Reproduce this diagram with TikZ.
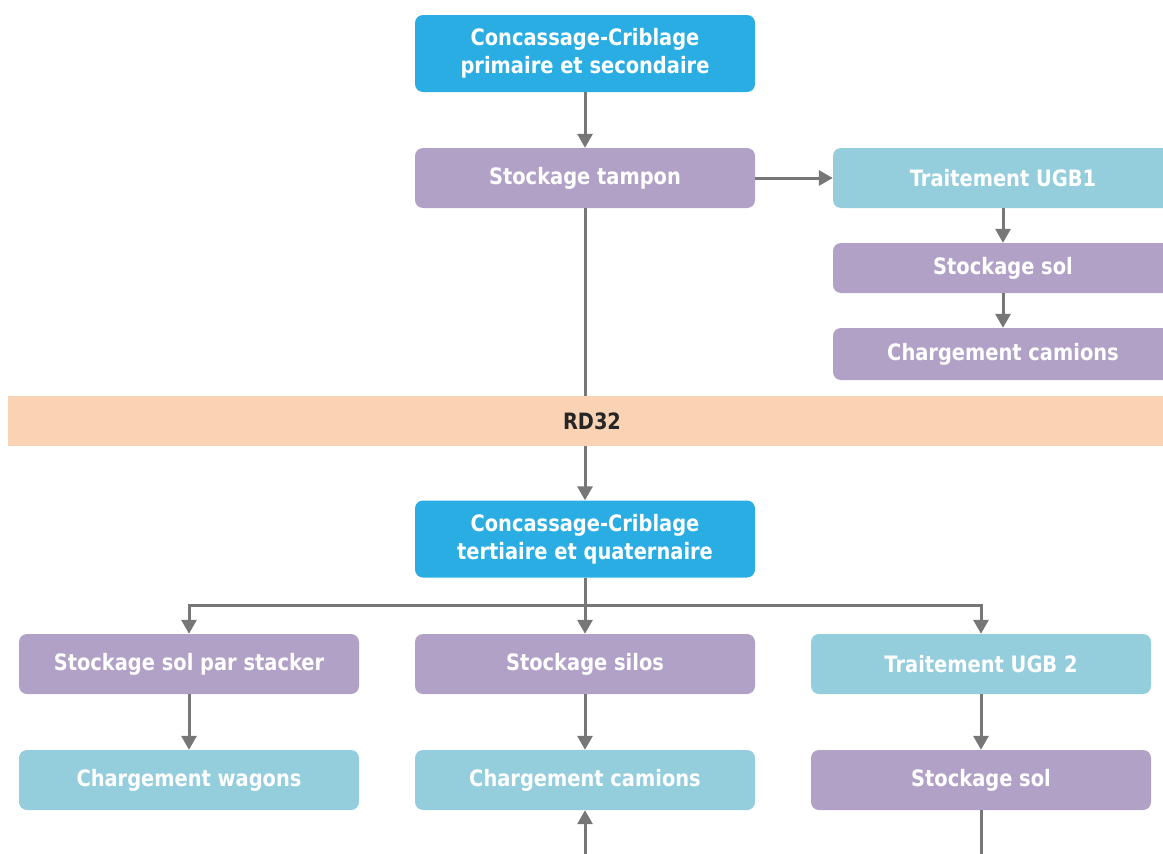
\documentclass[tikz,border=0pt]{standalone}
\usepackage{fontspec}
\setmainfont[FakeStretch=0.86]{DejaVu Sans}
\usepackage{tikz}
\usetikzlibrary{arrows.meta,positioning,calc}
\definecolor{ccblue}{HTML}{2AADE3}
\definecolor{stockviolet}{HTML}{B1A1C7}
\definecolor{loadcyan}{HTML}{94CDDC}
\definecolor{roadpeach}{HTML}{F9D3B4}
\definecolor{linegray}{HTML}{777777}
\tikzset{
box/.style = {rectangle, rounded corners=8pt, inner sep=0pt, minimum width=340pt, minimum height=60pt,
  text=white, font=\bfseries\fontsize{22.6}{28}\selectfont, align=center},
crush/.style = {box, fill=ccblue, minimum height=77pt},
stock/.style = {box, fill=stockviolet},
treat/.style = {box, fill=loadcyan},
road/.style  = {rectangle, fill=roadpeach, inner sep=0pt, minimum width=1168pt, minimum height=50pt,
  text=black!85, font=\bfseries\fontsize{22.5}{26}\selectfont},
flow/.style  = {draw=linegray, line width=3pt, -{Triangle[width=15pt,length=14pt]}},
line/.style  = {draw=linegray, line width=3pt}
}
\begin{document}
\begin{tikzpicture}[x=1pt,y=-1pt]
  \useasboundingbox (0,0) rectangle (1163,854);
  \clip (0,0) rectangle (1163,854);

  % partie haute
  \node [crush] (cc1)    at (585,53.5) {Concassage-Criblage\\primaire et secondaire};
  \node [stock] (tampon) at (585,178)  {Stockage tampon};
  \node [treat] (ugb1)   at (1003,178) {Traitement UGB1};
  \node [stock, minimum height=50pt] (sol1)  at (1003,268) {Stockage sol};
  \node [stock, minimum height=52pt] (cam1)  at (1003,354) {Chargement camions};

  % route
  \node [road] (rd) at (592,421) {RD32};

  % partie basse
  \node [crush] (cc2)     at (585,539) {Concassage-Criblage\\tertiaire et quaternaire};
  \node [stock] (stacker) at (189,664) {Stockage sol par stacker};
  \node [stock] (silos)   at (585,664) {Stockage silos};
  \node [treat] (ugb2)    at (981,664) {Traitement UGB 2};
  \node [treat] (wagons)  at (189,780) {Chargement wagons};
  \node [treat] (cam2)    at (585,780) {Chargement camions};
  \node [stock] (sol2)    at (981,780) {Stockage sol};
  \coordinate (in2)  at (585,880);
  \coordinate (out2) at (981,880);

  \draw [flow] (cc1) -- (tampon);
  \draw [flow] (tampon) -- (ugb1);
  \draw [flow] (ugb1) -- (sol1);
  \draw [flow] (sol1) -- (cam1);
  \draw [line] (tampon.south) -- (tampon.south |- rd.north);
  \draw [flow] (tampon.south |- rd.south) -- (cc2);
  \draw [flow] (cc2.south) -- ++(0,28) -| (stacker);
  \draw [flow] (cc2.south) -- (silos);
  \draw [flow] (cc2.south) -- ++(0,28) -| (ugb2);
  \draw [flow] (stacker) -- (wagons);
  \draw [flow] (silos) -- (cam2);
  \draw [flow] (ugb2) -- (sol2);
  \draw [flow] (in2) -- (cam2);
  \draw [line] (sol2) -- (out2);
\end{tikzpicture}
\end{document}
